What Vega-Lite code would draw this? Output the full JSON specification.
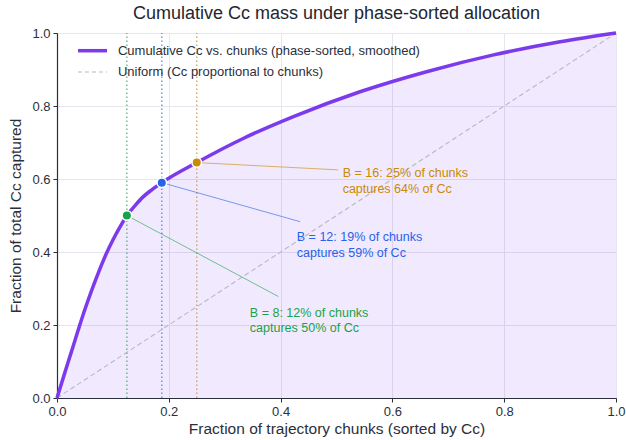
{
  "$schema": "https://vega.github.io/schema/vega-lite/v6.json",
  "width": 559,
  "height": 365,
  "autosize": "none",
  "padding": {"left": 57, "top": 33, "right": 10, "bottom": 42},
  "background": "white",
  "config": {
    "font": "Liberation Sans",
    "view": {"stroke": null},
    "axis": {
      "gridColor": "#e6e6ee",
      "gridWidth": 1,
      "domainColor": "#2b2f3a",
      "domainWidth": 1.2,
      "tickColor": "#2b2f3a",
      "tickSize": 4,
      "labelFontSize": 13,
      "labelColor": "#2b2f3a",
      "labelFlush": false,
      "titleFontSize": 15.5,
      "titleFontWeight": "normal",
      "titleColor": "#2b2f3a"
    }
  },
  "title": {
    "text": "Cumulative Cc mass under phase-sorted allocation",
    "fontSize": 18,
    "fontWeight": "normal",
    "color": "#222630",
    "anchor": "middle",
    "offset": 3
  },
  "datasets": {
    "curve": [
      {"x": 0.0, "y": 0.0},
      {"x": 0.0125, "y": 0.062},
      {"x": 0.025, "y": 0.123},
      {"x": 0.0375, "y": 0.184},
      {"x": 0.05, "y": 0.243},
      {"x": 0.0625, "y": 0.297},
      {"x": 0.075, "y": 0.347},
      {"x": 0.0875, "y": 0.393},
      {"x": 0.1, "y": 0.433},
      {"x": 0.1125, "y": 0.468},
      {"x": 0.125, "y": 0.5},
      {"x": 0.14, "y": 0.528},
      {"x": 0.154, "y": 0.551},
      {"x": 0.17, "y": 0.571},
      {"x": 0.1875, "y": 0.59},
      {"x": 0.25, "y": 0.645},
      {"x": 0.333, "y": 0.711},
      {"x": 0.423, "y": 0.771},
      {"x": 0.542, "y": 0.839},
      {"x": 0.661, "y": 0.894},
      {"x": 0.781, "y": 0.94},
      {"x": 0.9, "y": 0.976},
      {"x": 1.0, "y": 1.0}
    ],
    "uniform": [
      {"x": 0, "y": 0},
      {"x": 1, "y": 1}
    ],
    "marks": [
      {"B": "B = 8", "x": 0.125, "y": 0.5, "lx": 0.396, "ly": 0.278, "tx": 0.345, "ty": 0.234, "label": "B = 8: 12% of chunks\ncaptures 50% of Cc"},
      {"B": "B = 12", "x": 0.1875, "y": 0.59, "lx": 0.435, "ly": 0.483, "tx": 0.429, "ty": 0.44, "label": "B = 12: 19% of chunks\ncaptures 59% of Cc"},
      {"B": "B = 16", "x": 0.25, "y": 0.645, "lx": 0.503, "ly": 0.625, "tx": 0.511, "ty": 0.616, "label": "B = 16: 25% of chunks\ncaptures 64% of Cc"}
    ]
  },
  "layer": [
    {
      "data": {"name": "curve"},
      "mark": {"type": "area", "interpolate": "monotone", "color": "#7c3aed", "opacity": 0.11},
      "encoding": {
        "x": {"field": "x", "type": "quantitative", "scale": {"domain": [0, 1], "nice": false}, "axis": {"title": "Fraction of trajectory chunks (sorted by Cc)", "values": [0, 0.2, 0.4, 0.6, 0.8, 1.0], "format": ".1f", "titlePadding": 3, "labelPadding": 3}},
        "y": {"field": "y", "type": "quantitative", "scale": {"domain": [0, 1], "nice": false}, "axis": {"title": "Fraction of total Cc captured", "values": [0, 0.2, 0.4, 0.6, 0.8, 1.0], "format": ".1f", "titlePadding": 8, "labelPadding": 3}}
      }
    },
    {
      "data": {"name": "marks"},
      "mark": {"type": "rule", "strokeDash": [1.5, 2.5], "strokeWidth": 1.3, "opacity": 0.75},
      "encoding": {
        "x": {"field": "x", "type": "quantitative"},
        "y": {"datum": 0},
        "y2": {"datum": 1},
        "color": {"field": "B", "type": "nominal", "scale": {"domain": ["B = 8", "B = 12", "B = 16"], "range": ["#16a34a", "#2563eb", "#ca8a04"]}, "legend": null}
      }
    },
    {
      "data": {"name": "uniform"},
      "mark": {"type": "line", "color": "#b8b8c6", "strokeWidth": 1.1, "strokeDash": [5, 3]},
      "encoding": {
        "x": {"field": "x", "type": "quantitative"},
        "y": {"field": "y", "type": "quantitative"}
      }
    },
    {
      "data": {"name": "curve"},
      "mark": {"type": "line", "interpolate": "monotone", "color": "#7c3aed", "strokeWidth": 3.5},
      "encoding": {
        "x": {"field": "x", "type": "quantitative"},
        "y": {"field": "y", "type": "quantitative"}
      }
    },
    {
      "data": {"name": "marks"},
      "mark": {"type": "rule", "strokeWidth": 1, "opacity": 0.6},
      "encoding": {
        "x": {"field": "x", "type": "quantitative"},
        "y": {"field": "y", "type": "quantitative"},
        "x2": {"field": "lx"},
        "y2": {"field": "ly"},
        "color": {"field": "B", "type": "nominal", "legend": null}
      }
    },
    {
      "data": {"name": "marks"},
      "mark": {"type": "point", "filled": true, "size": 90, "opacity": 1, "stroke": "white", "strokeWidth": 1.5},
      "encoding": {
        "x": {"field": "x", "type": "quantitative"},
        "y": {"field": "y", "type": "quantitative"},
        "fill": {"field": "B", "type": "nominal", "scale": {"domain": ["B = 8", "B = 12", "B = 16"], "range": ["#16a34a", "#2563eb", "#ca8a04"]}, "legend": null}
      }
    },
    {
      "data": {"name": "marks"},
      "mark": {"type": "text", "align": "left", "baseline": "middle", "fontSize": 12.5, "lineBreak": "\n", "lineHeight": 15.5},
      "encoding": {
        "x": {"field": "tx", "type": "quantitative"},
        "y": {"field": "ty", "type": "quantitative"},
        "text": {"field": "label"},
        "color": {"field": "B", "type": "nominal", "legend": null}
      }
    },
    {
      "data": {"values": [{}]},
      "mark": {"type": "rule", "color": "#7c3aed", "strokeWidth": 3.5},
      "encoding": {"x": {"datum": 0.0376}, "x2": {"datum": 0.0894}, "y": {"datum": 0.9515}}
    },
    {
      "data": {"values": [{}]},
      "mark": {"type": "rule", "color": "#b8b8c6", "strokeWidth": 1.1, "strokeDash": [4, 3]},
      "encoding": {"x": {"datum": 0.0376}, "x2": {"datum": 0.0894}, "y": {"datum": 0.893}}
    },
    {
      "data": {"values": [
        {"label": "Cumulative Cc vs. chunks (phase-sorted, smoothed)", "row": 0.9515},
        {"label": "Uniform (Cc proportional to chunks)", "row": 0.893}
      ]},
      "mark": {"type": "text", "align": "left", "baseline": "middle", "fontSize": 13, "color": "#2b2f3a"},
      "encoding": {"x": {"datum": 0.109}, "y": {"field": "row", "type": "quantitative"}, "text": {"field": "label"}}
    }
  ]
}
